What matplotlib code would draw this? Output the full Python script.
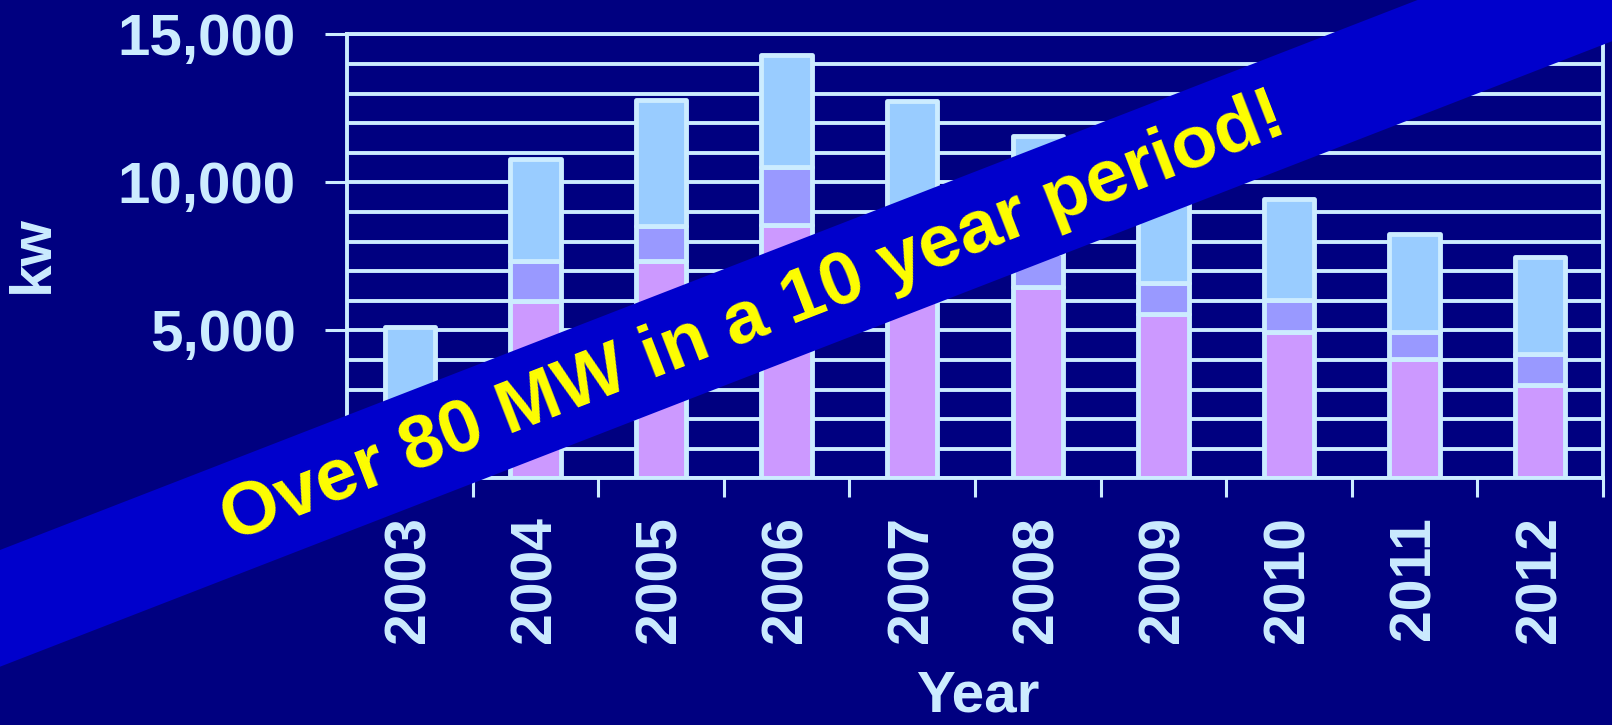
import numpy as np
import matplotlib as mpl
mpl.use('Agg')
import matplotlib.pyplot as plt
from matplotlib.patches import Polygon
from matplotlib.ticker import FixedLocator, MultipleLocator, StrMethodFormatter

plt.rcParams['font.family'] = ['Liberation Sans', 'DejaVu Sans']
plt.rcParams['font.weight'] = 'bold'

W, H = 1612, 725

years = ['2003', '2004', '2005', '2006', '2007', '2008', '2009', '2010', '2011', '2012']
#three stacked parts of each year's bar (kw), bottom to top
base_kw = [1900, 6000, 7350, 8550, 7500, 6460, 5550, 4950, 4040, 3140]
mid_kw = [700, 1350, 1180, 1960, 1300, 1140, 1060, 1070, 910, 1060]
top_kw = [2500, 3450, 4250, 3800, 3960, 3960, 3690, 3410, 3290, 3290]

bg = '#000080'
light = '#CCECFF'
seg_colors = ['#CC99FF', '#9999FF', '#99CCFF']

fig = plt.figure(figsize=(W/100, H/100), dpi=100, facecolor=bg)
#axes box in pixels: left 347, right 1603, top 34.3, bottom 478.3
ax = fig.add_axes([347/W, (H-478.3)/H, (1603-347)/W, (478.3-34.3)/H])
ax.set_facecolor(bg)

x = np.arange(len(years))
bottom = np.zeros(len(years))
for vals, c in zip([base_kw, mid_kw, top_kw], seg_colors):
    ax.bar(x, vals, width=0.4, bottom=bottom, color=c, edgecolor=light,
           linewidth=3.5, joinstyle='round', zorder=3)
    bottom += np.array(vals)

ax.set_xlim(-0.5, len(years) - 0.5)
ax.set_ylim(0, 15000)

#y axis: labels every 5000, grid every 1000
ax.yaxis.set_major_locator(FixedLocator([0, 5000, 10000, 15000]))
ax.yaxis.set_minor_locator(MultipleLocator(1000))
ax.yaxis.set_major_formatter(StrMethodFormatter('{x:,.0f}'))
ax.grid(True, axis='y', which='both', color=light, linewidth=2.8, zorder=1)
ax.tick_params(axis='y', which='major', length=16, width=2.2, color=light,
               labelcolor=light, labelsize=42, pad=21)
ax.tick_params(axis='y', which='minor', length=0)

#x axis: labels at bar centres, tick marks between categories
ax.set_xticks(x)
ax.set_xticklabels(years, rotation=90)
ax.set_xticks(np.arange(len(years) + 1) - 0.5, minor=True)
ax.tick_params(axis='x', which='major', length=0, labelcolor=light,
               labelsize=41, pad=27)
ax.tick_params(axis='x', which='minor', length=14, width=2.2, color=light)
for lab in ax.get_xticklabels() + ax.get_yticklabels():
    lab.set_fontweight('bold')

for sp in ax.spines.values():
    sp.set_color(light)
    sp.set_linewidth(2.8)
    sp.set_zorder(4)

ax.set_xlabel('Year', fontsize=42, fontweight='bold', color=light, va='bottom')
ax.xaxis.set_label_coords(0.5025, (478.3-723.5)/444)
ax.set_ylabel('kw', fontsize=42, fontweight='bold', color=light, va='center')
ax.yaxis.set_label_coords((33-347)/1256, (478.3-254)/444)

#diagonal banner across the chart (image pixels, y downward)
slope = 0.388
bx = np.array([-40, W + 40])
top_edge = 550 - slope*bx
bot_edge = 666.7 - slope*bx
pts = [(bx[0], top_edge[0]), (bx[1], top_edge[1]), (bx[1], bot_edge[1]), (bx[0], bot_edge[0])]
pts = [(px/W, (H-py)/H) for px, py in pts]
band = Polygon(pts, closed=True, transform=fig.transFigure, facecolor='#0000CC',
               edgecolor='none', zorder=10)
fig.add_artist(band)

angle = np.degrees(np.arctan(slope))
fig.text(760/W, (H-336.6)/H, 'Over 80 MW in a 10 year period!', color='#FFFF00',
         fontsize=54, fontweight='bold', rotation=angle, rotation_mode='anchor',
         ha='center', va='baseline', zorder=11)

fig.savefig('out.png', dpi=100, facecolor=bg)
